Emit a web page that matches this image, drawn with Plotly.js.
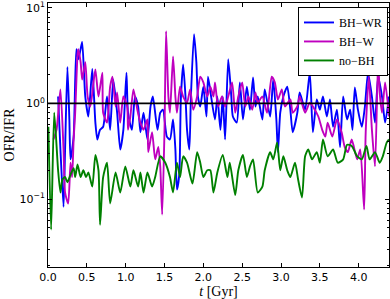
<!DOCTYPE html>
<html><head><meta charset="utf-8">
<script src="https://cdn.plot.ly/plotly-3.0.1.min.js"></script>
<style>html,body{margin:0;padding:0;background:#fff}#chart{width:390px;height:299px}</style>
</head><body><div id="chart"></div>
<script>
// BH-WR (blue)
var tWR = [0.13,0.16,0.20,0.22,0.25,0.275,0.29,0.33,0.365,0.39,0.42,0.44,0.48,0.52,0.57,0.61,0.635,0.67,0.71,0.76,0.80,0.84,0.89,0.93,0.97,1.01,1.03,1.08,1.12,1.16,1.19,1.23,1.28,1.32,1.35,1.41,1.445,1.48,1.53,1.57,1.61,1.64,1.66,1.69,1.71,1.74,1.77,1.79,1.82,1.84,1.88,1.91,1.93,1.96,2.00,2.04,2.06,2.10,2.15,2.18,2.22,2.25,2.28,2.32,2.36,2.38,2.43,2.47,2.51,2.56,2.60,2.64,2.67,2.70,2.76,2.79,2.86,2.90,2.94,2.96,2.99,3.03,3.08,3.12,3.15,3.21,3.24,3.31,3.37,3.41,3.46,3.50,3.54,3.59,3.63,3.67,3.72,3.76,3.80,3.85,3.89,3.92,3.95,3.99,4.04,4.08,4.12,4.17,4.21,4.25,4.30,4.34,4.39];
var vWR = [1.18,0.33,0.083,0.33,2.4,0.68,0.26,0.45,3.7,2.9,3.7,4.4,1.18,0.73,2.3,0.63,0.42,0.53,0.57,1.18,0.53,1.78,0.80,0.33,0.53,2.1,0.80,0.53,1.18,0.93,0.50,0.80,0.42,0.93,1.18,0.53,0.80,0.86,0.45,0.42,0.68,0.33,0.126,0.18,1.1,2.56,1.18,0.53,0.33,1.18,5.3,2.7,1.18,0.93,1.5,0.73,1.9,1.18,0.68,1.18,0.53,1.18,0.42,2.9,1.18,0.73,0.63,1.66,0.68,1.5,0.86,1.87,0.93,1.18,0.68,1.4,0.73,1.78,0.68,0.31,0.80,1.18,1.5,0.86,0.50,0.80,1.3,0.86,2.1,0.50,1.1,0.86,1.18,0.73,1.1,0.57,0.86,0.35,1.18,0.68,0.86,0.53,1.47,0.86,0.57,0.93,2.1,1.18,0.63,1.9,1.18,0.63,1.18];
// BH-W (magenta)
var tW = [0.07,0.11,0.16,0.20,0.22,0.26,0.29,0.31,0.33,0.35,0.38,0.39,0.42,0.44,0.48,0.51,0.545,0.58,0.61,0.65,0.70,0.71,0.76,0.80,0.83,0.87,0.89,0.93,0.97,1.02,1.03,1.06,1.10,1.15,1.19,1.23,1.28,1.29,1.34,1.38,1.42,1.445,1.47,1.50,1.52,1.55,1.57,1.61,1.64,1.66,1.70,1.74,1.79,1.83,1.87,1.92,1.96,2.00,2.05,2.09,2.13,2.15,2.19,2.24,2.28,2.32,2.37,2.41,2.45,2.50,2.54,2.58,2.63,2.67,2.70,2.76,2.82,2.88,2.92,2.96,3.01,3.05,3.12,3.15,3.21,3.24,3.31,3.37,3.41,3.48,3.53,3.57,3.60,3.66,3.72,3.78,3.82,3.86,3.91,3.98,4.02,4.07,4.09,4.13,4.17,4.21,4.25,4.27,4.30,4.34,4.39];
var vW = [0.42,0.53,1.4,0.33,0.117,0.09,0.24,0.17,0.42,0.8,3.26,3.7,2.7,1.78,2.7,1.18,0.93,1.5,2.27,1.18,2.1,0.8,0.63,1.5,1.9,0.93,1.3,0.63,1.18,0.93,0.53,0.73,1.4,0.86,0.63,0.53,0.68,0.31,0.5,0.26,0.35,0.22,0.069,0.53,5.7,1.18,0.8,3.1,1.18,0.8,1.5,1.18,1.02,1.4,0.86,1.18,1.9,1.66,1.18,1.5,1.18,1.66,0.93,1.18,0.93,1.18,1.66,0.8,1.18,1.66,0.93,1.18,0.86,1.3,1.02,1.18,0.8,1.9,1.66,1.1,1.4,0.93,1.1,0.8,0.93,1.18,0.8,1.02,0.93,0.73,0.53,0.45,0.63,0.45,0.68,0.5,0.35,0.31,0.42,0.26,0.33,0.078,0.5,1.9,0.53,0.22,2.9,1.3,0.8,1.66,0.73];
// no-BH (green)
var tN = [0.005,0.04,0.08,0.13,0.16,0.185,0.22,0.25,0.29,0.33,0.35,0.38,0.42,0.455,0.49,0.52,0.57,0.61,0.65,0.67,0.71,0.76,0.80,0.87,0.93,0.995,1.06,1.10,1.16,1.19,1.23,1.28,1.34,1.38,1.445,1.51,1.57,1.61,1.66,1.70,1.74,1.79,1.86,1.92,1.96,2.00,2.05,2.09,2.13,2.18,2.25,2.31,2.34,2.41,2.45,2.51,2.56,2.60,2.64,2.70,2.76,2.79,2.86,2.90,2.95,2.99,3.03,3.08,3.12,3.18,3.22,3.27,3.31,3.35,3.40,3.46,3.50,3.54,3.60,3.67,3.73,3.80,3.85,3.91,3.98,4.04,4.10,4.14,4.21,4.27,4.31,4.36,4.39];
var vN = [0.57,0.048,0.80,0.20,0.117,0.16,0.17,0.15,0.18,0.21,0.17,0.23,0.17,0.20,0.17,0.19,0.135,0.29,0.20,0.054,0.17,0.24,0.09,0.19,0.117,0.22,0.135,0.20,0.135,0.19,0.117,0.19,0.135,0.17,0.28,0.24,0.17,0.117,0.24,0.17,0.28,0.24,0.145,0.31,0.24,0.17,0.20,0.20,0.117,0.19,0.29,0.17,0.24,0.11,0.20,0.29,0.17,0.22,0.26,0.117,0.135,0.20,0.31,0.26,0.39,0.20,0.28,0.20,0.17,0.24,0.16,0.104,0.28,0.33,0.26,0.31,0.24,0.42,0.28,0.33,0.24,0.26,0.37,0.36,0.28,0.26,0.36,0.26,0.31,0.24,0.28,0.39,0.42];
var xTicks = [0.0,0.5,1.0,1.5,2.0,2.5,3.0,3.5,4.0];
var yTickVals = [0.1,1,10];
var yTickText = ['10<sup>\u22121</sup>','10<sup>0</sup>','10<sup>1</sup>'];
var refLineX = [0, 4.5];
var refLineY = [1, 1];

var lw = 1.9;
var traces = [
  {x:tWR, y:vWR, name:'BH\u2212WR', mode:'lines', line:{color:'#0000ff', width:lw, shape:'spline', smoothing:0.6}},
  {x:tW, y:vW, name:'BH\u2212W', mode:'lines', line:{color:'#bf00bf', width:lw, shape:'spline', smoothing:0.6}},
  {x:tN, y:vN, name:'no\u2212BH', mode:'lines', line:{color:'#008000', width:lw, shape:'spline', smoothing:0.6}},
  {x:refLineX, y:refLineY, mode:'lines', showlegend:false, hoverinfo:'skip', line:{color:'#000000', width:1.8}}
];
var layout = {
  width:390, height:299,
  margin:{l:48, r:1, t:3, b:32},
  paper_bgcolor:'#fff', plot_bgcolor:'#fff',
  showlegend:true,
  legend:{x:0.997, y:0.985, xanchor:'right', yanchor:'top', bgcolor:'#fff', bordercolor:'#000', borderwidth:1,
    font:{family:'Liberation Serif, serif', size:12, color:'#000'}, tracegroupgap:0},
  xaxis:{range:[0,4.39], tickvals:xTicks, ticktext:xTicks.map(function(v){return v.toFixed(1);}),
    ticks:'inside', ticklen:4, tickcolor:'#000', showline:true, linecolor:'#000', linewidth:1, mirror:'ticks',
    showgrid:false, zeroline:false, tickfont:{family:'DejaVu Sans', size:11, color:'#000'},
    title:{text:'<i>t</i> [Gyr]', font:{family:'Liberation Serif, serif', size:14, color:'#000'}, standoff:3}},
  yaxis:{type:'log', range:[-1.71,1.05], tickvals:yTickVals, ticktext:yTickText,
    ticks:'inside', ticklen:4, tickcolor:'#000', showline:true, linecolor:'#000', linewidth:1, mirror:'ticks',
    minor:{ticks:'inside', ticklen:2, tickcolor:'#000', dtick:'D1', showgrid:false},
    showgrid:false, zeroline:false, tickfont:{family:'DejaVu Sans', size:11, color:'#000'},
    title:{text:'OFR/IFR', font:{family:'Liberation Serif, serif', size:14, color:'#000'}, standoff:1}}
};
Plotly.newPlot('chart', traces, layout, {staticPlot:true, displayModeBar:false});
</script></body></html>
